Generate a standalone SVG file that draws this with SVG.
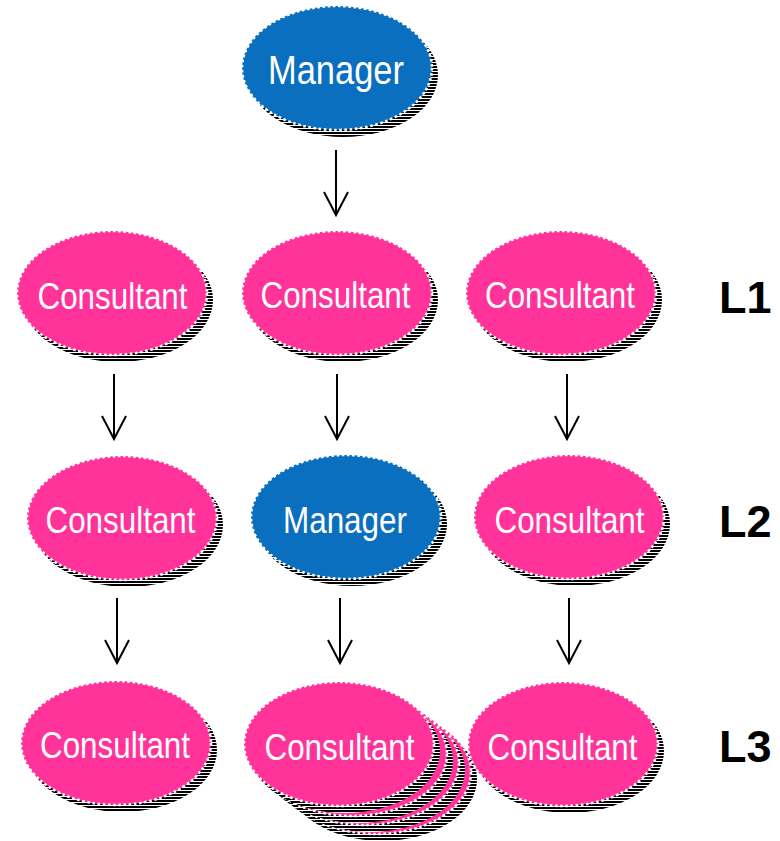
<svg xmlns="http://www.w3.org/2000/svg" width="780" height="841" viewBox="0 0 780 841">
<style>
.sh{fill:url(#stripes)}
.c{fill:#FF3399;stroke:#fff;stroke-width:2.6;stroke-dasharray:2.6 2.6}
.m{fill:#0A6FBF;stroke:#fff;stroke-width:2.6;stroke-dasharray:2.6 2.6}
.t{font-family:"Liberation Sans",Arial,sans-serif;fill:#fff;text-anchor:middle}
.lv{font-family:"Liberation Sans",Arial,sans-serif;font-weight:bold;font-size:45px;fill:#000}
.a{stroke:#000;stroke-width:2;fill:none}
</style>
<defs>
<pattern id="stripes" patternUnits="userSpaceOnUse" width="6" height="3">
<rect width="6" height="3" fill="#fff"/>
<rect width="6" height="2" fill="#000"/>
</pattern>
<g id="consN">
<ellipse class="sh" cx="6" cy="7" rx="95" ry="62"/>
<ellipse class="c" cx="0" cy="0" rx="95" ry="62"/>
</g>
</defs>
<rect width="780" height="841" fill="#fff"/>
<g id="connectors">
<path class="a" d="M336 150V215M324 192L336 215L348 192"/>
<path class="a" d="M114 374V439M102 416L114 439L126 416"/>
<path class="a" d="M337 374V439M325 416L337 439L349 416"/>
<path class="a" d="M567 374V439M555 416L567 439L579 416"/>
<path class="a" d="M117 598V663M105 640L117 663L129 640"/>
<path class="a" d="M340 598V663M328 640L340 663L352 640"/>
<path class="a" d="M569 598V663M557 640L569 663L581 640"/>
</g>
<g id="manager-top">
<ellipse class="sh" cx="343" cy="75" rx="95" ry="62"/>
<ellipse class="m" cx="337" cy="68" rx="95" ry="62"/>
<text class="t" x="336" y="84" font-size="40" textLength="136" lengthAdjust="spacingAndGlyphs">Manager</text>
</g>
<g id="l1-c1">
<use href="#consN" x="112" y="293"/>
<text class="t" x="112.5" y="309" font-size="37" textLength="150" lengthAdjust="spacingAndGlyphs">Consultant</text>
</g>
<g id="l1-c2">
<use href="#consN" x="337" y="293"/>
<text class="t" x="335.5" y="308" font-size="37" textLength="150" lengthAdjust="spacingAndGlyphs">Consultant</text>
</g>
<g id="l1-c3">
<use href="#consN" x="561" y="293"/>
<text class="t" x="560" y="308" font-size="37" textLength="150" lengthAdjust="spacingAndGlyphs">Consultant</text>
</g>
<g id="l2-c1">
<use href="#consN" x="122" y="518"/>
<text class="t" x="120.5" y="533" font-size="37" textLength="150" lengthAdjust="spacingAndGlyphs">Consultant</text>
</g>
<g id="l2-manager">
<ellipse class="sh" cx="352" cy="524" rx="95" ry="62"/>
<ellipse class="m" cx="346" cy="517" rx="95" ry="62"/>
<text class="t" x="345" y="533" font-size="36" textLength="124" lengthAdjust="spacingAndGlyphs">Manager</text>
</g>
<g id="l2-c3">
<use href="#consN" x="569" y="517"/>
<text class="t" x="569.5" y="533" font-size="37" textLength="150" lengthAdjust="spacingAndGlyphs">Consultant</text>
</g>
<g id="l3-c1">
<use href="#consN" x="116" y="743"/>
<text class="t" x="115" y="758" font-size="37" textLength="150" lengthAdjust="spacingAndGlyphs">Consultant</text>
</g>
<g id="l3-c2">
<use href="#consN" x="376" y="772"/>
<use href="#consN" x="364" y="763"/>
<use href="#consN" x="352" y="754"/>
<use href="#consN" x="339" y="744"/>
<text class="t" x="339.5" y="760" font-size="37" textLength="150" lengthAdjust="spacingAndGlyphs">Consultant</text>
</g>
<g id="l3-c3">
<use href="#consN" x="563" y="744"/>
<text class="t" x="562.5" y="760" font-size="37" textLength="150" lengthAdjust="spacingAndGlyphs">Consultant</text>
</g>
<g id="levels">
<text class="lv" x="719" y="313">L1</text>
<text class="lv" x="719" y="537">L2</text>
<text class="lv" x="719" y="762">L3</text>
</g>
</svg>
